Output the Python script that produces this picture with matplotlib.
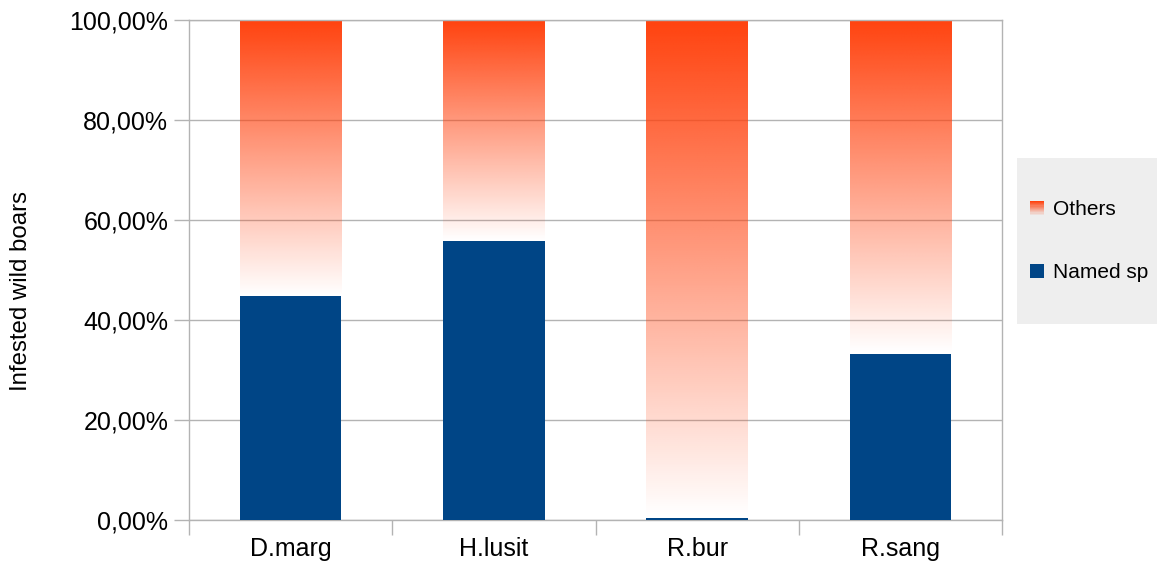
import matplotlib.pyplot as plt
import numpy as np
from matplotlib.legend_handler import HandlerBase
from matplotlib.patches import Rectangle
from matplotlib.colors import to_rgb

plt.rcParams["font.family"] = ["Liberation Sans", "DejaVu Sans"]

species = ["D.marg", "H.lusit", "R.bur", "R.sang"]
named_sp = [44.8, 55.8, 0.5, 33.3]
others = [100 - v for v in named_sp]

BLUE = "#004586"
ORANGE = "#ff420e"
GRID = "#b3b3b3"
W, H = 1157, 571


class GradientHandler(HandlerBase):
    # legend key drawn as a stack of thin strips fading to white
    def create_artists(self, legend, orig_handle, xdescent, ydescent,
                       width, height, fontsize, trans):
        strips = []
        n = 12
        for i in range(n):
            a = (i + 1) / n
            strips.append(Rectangle((-xdescent, -ydescent + height * i / n),
                                    width, height / n, facecolor=ORANGE,
                                    alpha=a, edgecolor="none", transform=trans))
        return strips


fig = plt.figure(figsize=(W / 100, H / 100), dpi=100)
ax = fig.add_axes([189 / W, 1 - 520 / H, (1002 - 189) / W, 500 / H])

x = np.arange(len(species))
width = 0.5

ax.bar(x, named_sp, width, color=BLUE, zorder=3, label="Named sp")

# "Others" segment: orange fading out towards the named part
rgb = to_rgb(ORANGE)
grad = np.zeros((256, 1, 4))
grad[..., 0], grad[..., 1], grad[..., 2] = rgb
grad[:, 0, 3] = np.linspace(1, 0, 256)
for xi, b, h in zip(x, named_sp, others):
    ax.imshow(grad, extent=[xi - width / 2, xi + width / 2, b, b + h],
              aspect="auto", interpolation="bilinear", zorder=2)

ax.set_xlim(-0.5, len(species) - 0.5)
ax.set_ylim(0, 100)
ax.set_yticks(np.arange(0, 101, 20))
ax.set_yticklabels([f"{v:.2f}%".replace(".", ",") for v in np.arange(0, 101, 20)])
ax.set_xticks(x)
ax.set_xticklabels(species)
ax.set_xticks(np.arange(-0.5, len(species), 1), minor=True)

ax.yaxis.grid(True, color=GRID, linewidth=1, zorder=1)
ax.set_axisbelow(True)
for s in ax.spines.values():
    s.set_color(GRID)
    s.set_linewidth(1)

ax.tick_params(axis="y", labelsize=18, length=11, width=1, color=GRID, pad=4)
ax.tick_params(axis="x", which="major", labelsize=18, length=0, pad=12)
ax.tick_params(axis="x", which="minor", length=11, width=1, color=GRID)
ax.set_ylabel("Infested wild boars", fontsize=17.3)
ax.yaxis.set_label_coords(-0.193, 0.458)

# legend panel
fig.patches.append(Rectangle((1017 / W, 1 - 324 / H), 140 / W, 166 / H,
                             transform=fig.transFigure, facecolor="#eeeeee",
                             edgecolor="none", zorder=0))
handles = [Rectangle((0, 0), 1, 1, facecolor=ORANGE),
           Rectangle((0, 0), 1, 1, facecolor=BLUE)]
leg = fig.legend(handles, ["Others", "Named sp"],
                 handler_map={handles[0]: GradientHandler()},
                 loc="center left", bbox_to_anchor=(1030 / W, 1 - 241 / H),
                 fontsize=15, frameon=False, borderpad=0,
                 labelspacing=2.1, handlelength=0.65, handleheight=0.65,
                 handletextpad=0.45, borderaxespad=0)

fig.savefig("out.png", dpi=100)
